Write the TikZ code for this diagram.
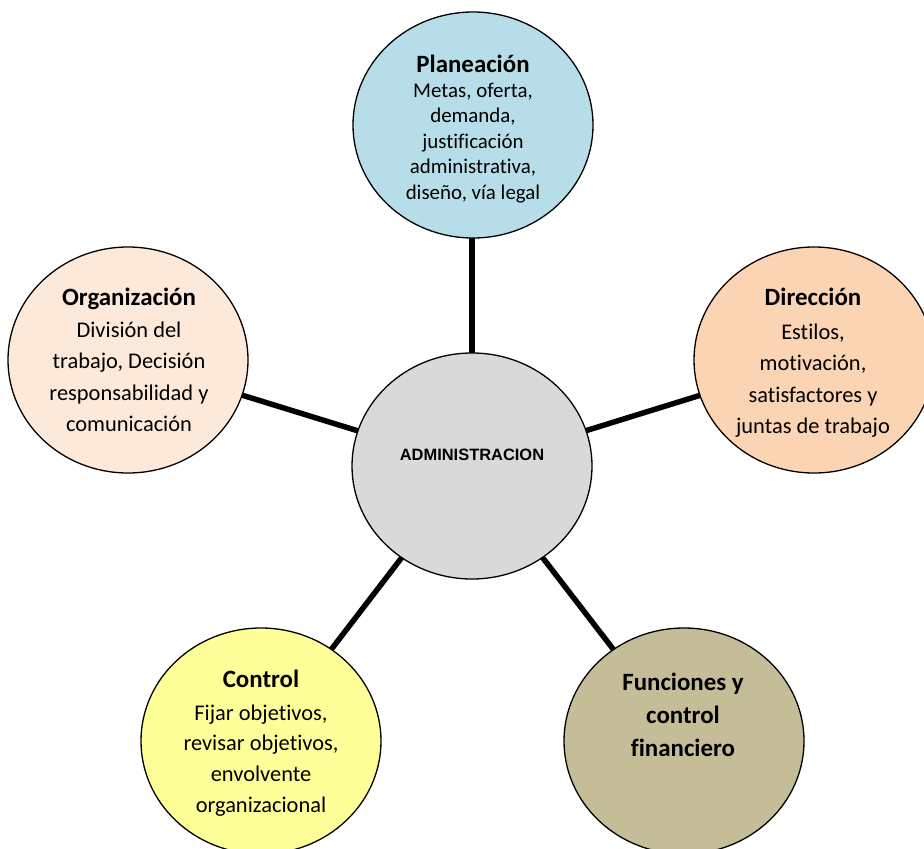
\documentclass[tikz,border=0pt]{standalone}
\usepackage{fontspec}
\setmainfont[Ligatures={NoCommon,NoContextual}]{Carlito}
\newfontfamily\arialfont{Liberation Sans}
\usetikzlibrary{shapes.geometric,backgrounds}
\definecolor{cPla}{HTML}{B7DEE8}
\definecolor{cOrg}{HTML}{FDE9D9}
\definecolor{cDir}{HTML}{FBD4B4}
\definecolor{cCon}{HTML}{FFFF99}
\definecolor{cFun}{HTML}{C4BD97}
\definecolor{cAdm}{HTML}{D9D9D9}
\begin{document}
\begin{tikzpicture}[x=1bp,y=-1bp,
  bubble/.style={ellipse, draw=black, line width=1.3bp, minimum width=240bp, minimum height=226bp, inner sep=0pt, outer sep=0pt},
  link/.style={line width=5.5bp, black},
  ttl/.style={anchor=base, inner sep=0pt, font=\fontsize{25}{30}\selectfont\bfseries},
  bodysmall/.style={anchor=base, inner sep=0pt, font=\fontsize{21}{25.7}\selectfont},
  bodylarge/.style={anchor=base, inner sep=0pt, font=\fontsize{22.5}{31.7}\selectfont},
]
\path[use as bounding box] (0,0) rectangle (924,849);
\clip (0,0) rectangle (924,849);

\node[bubble, fill=cPla] (pla) at (473,125) {};
\node[bubble, fill=cOrg] (org) at (128,360) {};
\node[bubble, fill=cDir] (dir) at (814,360) {};
\node[bubble, fill=cCon] (con) at (261,741) {};
\node[bubble, fill=cFun] (fun) at (684,741) {};
\node[bubble, fill=cAdm] (adm) at (472,466) {};

\begin{scope}[on background layer]
  \draw[link] (adm.center) -- (adm.center |- pla.center);
  \draw[link] (adm.center) -- (org.center);
  \draw[link] (adm.center) -- (dir.center);
  \draw[link] (adm.center) -- (con.center);
  \draw[link] (adm.center) -- (fun.center);
\end{scope}

% Planeacion
\node[ttl] (plaT) at (473,72) {Planeación};
\node[bodysmall] (plaB) at (473,97) {\begin{tabular}[t]{@{}c@{}}Metas, oferta,\\demanda,\\justificación\\administrativa,\\diseño, vía legal\end{tabular}};

% Organizacion
\node[ttl] (orgT) at (129,305) {Organización};
\node[bodylarge] (orgB) at (129,337) {\begin{tabular}[t]{@{}c@{}}División del\\trabajo, Decisión\\responsabilidad y\\comunicación\end{tabular}};

% Direccion
\node[ttl] (dirT) at (813,305) {Dirección};
\node[bodylarge] (dirB) at (813,339) {\begin{tabular}[t]{@{}c@{}}Estilos,\\motivación,\\satisfactores y\\juntas de trabajo\end{tabular}};

% Control
\node[ttl] (conT) at (261,687) {Control};
\node[bodylarge, font=\fontsize{22.5}{31}\selectfont] (conB) at (261,720) {\begin{tabular}[t]{@{}c@{}}Fijar objetivos,\\revisar objetivos,\\envolvente\\organizacional\end{tabular}};

% Funciones
\node[ttl, font=\fontsize{25}{33.5}\selectfont\bfseries] (funT) at (683,690) {\begin{tabular}[t]{@{}c@{}}Funciones y\\control\\financiero\end{tabular}};

% Administracion
\node[anchor=base, inner sep=0pt, font=\arialfont\bfseries\fontsize{16.5}{20}\selectfont] (admT) at (472,460) {ADMINISTRACION};
\end{tikzpicture}
\end{document}
